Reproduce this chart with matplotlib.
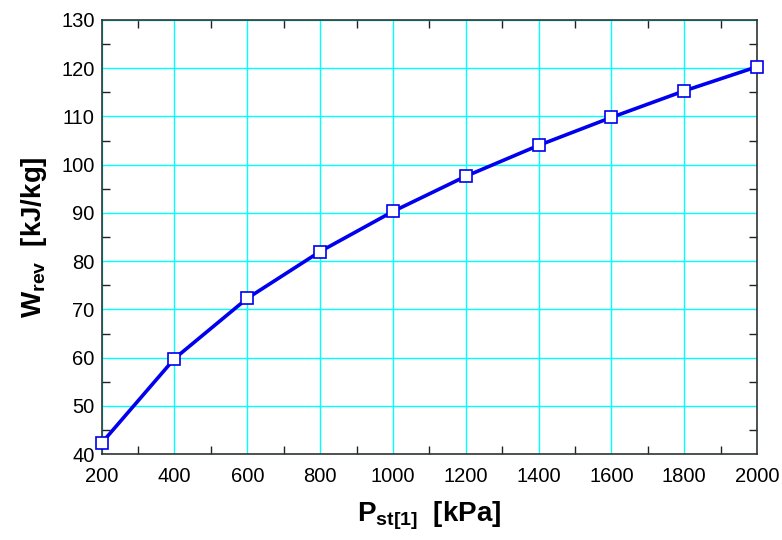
import numpy as np
import matplotlib
matplotlib.use('Agg')
import matplotlib.pyplot as plt
from matplotlib.ticker import MultipleLocator

plt.rcParams['font.family'] = ['Liberation Sans', 'DejaVu Sans']
plt.rcParams['mathtext.fontset'] = 'custom'
plt.rcParams['mathtext.rm'] = 'Liberation Sans'
plt.rcParams['mathtext.bf'] = 'Liberation Sans:bold'

# data
pressure = [200, 400, 600, 800, 1000, 1200, 1400, 1600, 1800, 2000]
w_rev = [42.3, 59.8, 72.3, 82.0, 90.3, 97.6, 104.0, 109.8, 115.3, 120.3]

fig = plt.figure(figsize=(7.82, 5.40), dpi=100)
ax = fig.add_axes([0.130, 0.159, 0.838, 0.804])

ax.plot(pressure, w_rev, color='#0000ee', lw=2.6, marker='s', ms=9,
        mfc='white', mec='#0000ee', mew=1.2, clip_on=False, zorder=3)

ax.set_xlim(200, 2000)
ax.set_ylim(40, 130)
ax.xaxis.set_major_locator(MultipleLocator(200))
ax.xaxis.set_minor_locator(MultipleLocator(100))
ax.yaxis.set_major_locator(MultipleLocator(10))
ax.yaxis.set_minor_locator(MultipleLocator(5))

ax.grid(True, which='major', color='cyan', lw=1.0)
ax.tick_params(which='both', direction='in', top=True, right=True,
               labelsize=14.5, color='#222222')
ax.tick_params(axis='x', which='major', length=0, pad=9)
ax.tick_params(axis='y', which='major', length=0, pad=5)
ax.tick_params(which='minor', length=6, width=1)
for s in ax.spines.values():
    s.set_color('#333333')
    s.set_linewidth(1.2)

ax.set_xlabel(r'$\mathbf{P_{st[1]}}$  [kPa]', fontsize=20, fontweight='bold', labelpad=10)
ax.set_ylabel(r'$\mathbf{W_{rev}}$  [kJ/kg]', fontsize=20, fontweight='bold', labelpad=9)

plt.savefig('out.png', dpi=100)
plt.close()
